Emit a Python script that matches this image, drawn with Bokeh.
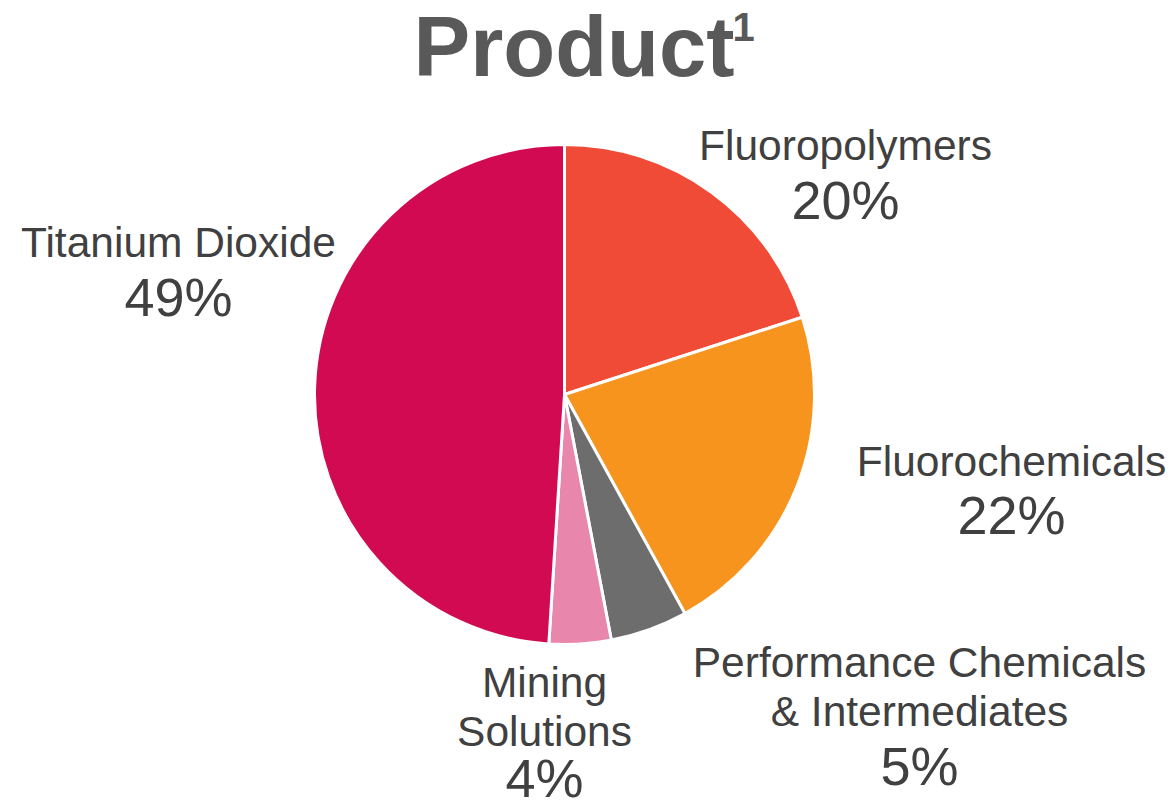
import math
from bokeh.plotting import figure
from bokeh.models import Range1d, ColumnDataSource
from bokeh.core.properties import value
from bokeh.embed import file_html
from bokeh.resources import INLINE

# ---- data ----
categories = ["Fluoropolymers", "Fluorochemicals", "Performance Chemicals\n& Intermediates",
              "Mining\nSolutions", "Titanium Dioxide"]
shares = [20, 22, 5, 4, 49]
pct_labels = ["20%", "22%", "5%", "4%", "49%"]
colors = ["#F04B37", "#F7941E", "#6D6D6D", "#E886AB", "#D20A52"]
title_text = "Product"
title_sup = "1"

# ---- layout ----
W, H = 1172, 812
cx, cy_img, R = 564, 394, 250
NAME_FS, PCT_FS = 42.5, 54
SHIFT = 0.38  # renderer baseline correction (fraction of font size)
# label anchor: (center x, baseline of first name line, line step, pct baseline) in image px
label_pos = [
    (845, 161, 49, 220),
    (1011, 477, 49, 535),
    (919, 678, 49, 786),
    (544, 698, 49, 798),
    (178, 258, 49, 317),
]

p = figure(width=W, height=H, output_backend="svg", toolbar_location=None,
           x_range=Range1d(0, W), y_range=Range1d(0, H),
           x_axis_location=None, y_axis_location=None,
           min_border=0, outline_line_color=None)
p.grid.visible = False
p.background_fill_color = "white"
p.border_fill_color = "white"

total = float(sum(shares))
starts, ends = [], []
cum = 0.0
for s in shares:
    a0 = math.pi / 2 - 2 * math.pi * (cum + s) / total
    a1 = math.pi / 2 - 2 * math.pi * cum / total
    starts.append(a0)
    ends.append(a1)
    cum += s

src = ColumnDataSource(dict(x=[cx] * len(shares), y=[H - cy_img] * len(shares),
                            start=starts, end=ends, color=colors))
p.wedge(x="x", y="y", radius=R, start_angle="start", end_angle="end",
        fill_color="color", line_color="white", line_width=3, source=src)

name_x, name_y, name_t = [], [], []
pct_x, pct_y = [], []
for cat, (lx, ly, step, py) in zip(categories, label_pos):
    for i, line in enumerate(cat.split("\n")):
        name_x.append(lx)
        name_y.append(H - (ly + i * step - SHIFT * NAME_FS))
        name_t.append(line)
    pct_x.append(lx)
    pct_y.append(H - (py - SHIFT * PCT_FS))

p.text(x=name_x, y=name_y, text=name_t, text_align="center", text_baseline="alphabetic",
       text_font=value("Liberation Sans"), text_font_size=f"{NAME_FS}px", text_color="#404040")
p.text(x=pct_x, y=pct_y, text=pct_labels, text_align="center", text_baseline="alphabetic",
       text_font=value("Liberation Sans"), text_font_size=f"{PCT_FS}px", text_color="#404040")

p.text(x=[413], y=[H - (78 - SHIFT * 85)], text=[title_text], text_align="left",
       text_baseline="alphabetic", text_font=value("Liberation Sans"), text_font_style="bold",
       text_font_size="85px", text_color="#595959")
p.text(x=[732], y=[H - (42 - SHIFT * 40)], text=[title_sup], text_align="left",
       text_baseline="alphabetic", text_font=value("Liberation Sans"), text_font_style="bold",
       text_font_size="40px", text_color="#595959")

open("out.html", "w").write(file_html(p, INLINE))
